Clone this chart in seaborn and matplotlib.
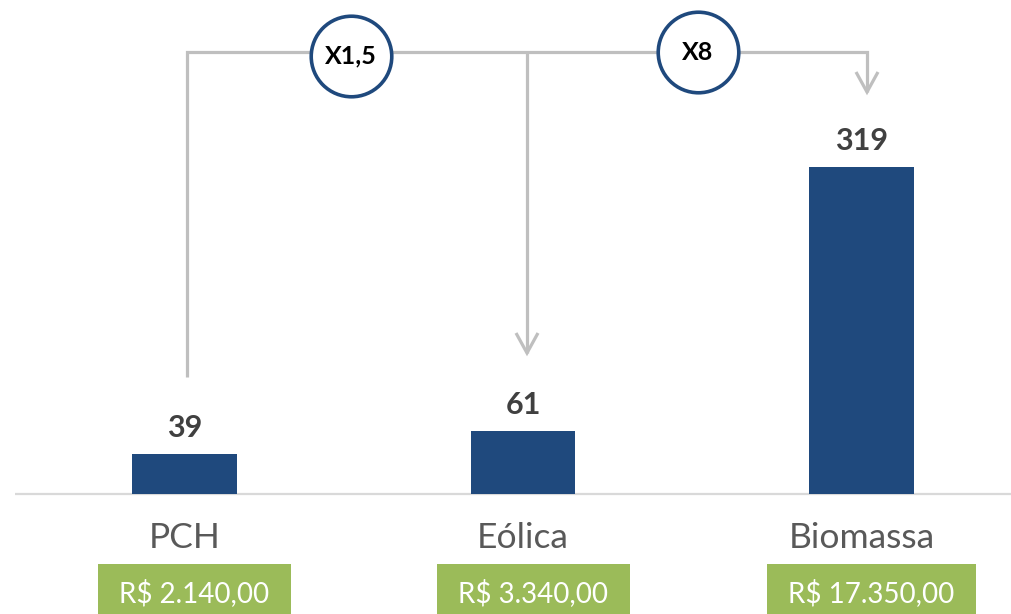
import matplotlib
matplotlib.use("Agg")
import matplotlib.pyplot as plt
import pandas as pd
import seaborn as sns
from matplotlib.patches import Rectangle

# Data
categories = ["PCH", "Eólica", "Biomassa"]
values = [39, 61, 319]
prices = ["R$ 2.140,00", "R$ 3.340,00", "R$ 17.350,00"]
multipliers = ["X1,5", "X8"]

W, H = 1011, 614
BAR_COLOR = "#1F497D"
LINE_GRAY = "#BFBFBF"
GREEN = "#9BBB59"

sns.set_theme(style="white")
plt.rcParams["font.family"] = ["Lato", "DejaVu Sans"]

fig = plt.figure(figsize=(W / 100, H / 100), dpi=100)
ax = fig.add_axes([0, 0, 1, 1])

df = pd.DataFrame({"fonte": categories, "valor": values})
sns.barplot(data=df, x="fonte", y="valor", color=BAR_COLOR, saturation=1,
            width=0.31, edgecolor="none", ax=ax, zorder=2)

# Layout in pixels: first category centre, spacing, baseline, pixels per unit
X0, STEP, BASE, UNIT = 184.5, 338.5, 494.0, 1.025
ax.set_xlim(-X0 / STEP, (W - X0) / STEP)
ax.set_ylim(-(H - BASE) / UNIT, BASE / UNIT)
ax.axis("off")


def to_data(xp, yp):
    return (xp - X0) / STEP, (BASE - yp) / UNIT


dx = lambda p: p / STEP
dy = lambda p: p / UNIT

# Baseline
ax.hlines(0, -0.5, 2.6, color="#D9D9D9", lw=1.6, zorder=1)

# Value labels above the bars
for i, v in enumerate(values):
    ax.annotate(str(v), (i, v), xytext=(0, 12.5), textcoords="offset points",
                ha="center", va="baseline", fontsize=22, fontweight="bold",
                color="#404040", zorder=3)

# Category names
for i, c in enumerate(categories):
    ax.text(i, to_data(0, 548)[1], c, ha="center", va="baseline",
            fontsize=25.5, fontweight="normal", color="#595959")

# Price tags
fig.canvas.draw()
renderer = fig.canvas.get_renderer()
inv = ax.transData.inverted()
for i, p in enumerate(prices):
    t = ax.text(i + dx(10), to_data(0, 602)[1], p, ha="center", va="baseline",
                fontsize=20, color="white", zorder=4)
    bb = t.get_window_extent(renderer)
    wpx = bb.width + 43
    cx = (bb.x0 + bb.x1) / 2
    (x_a, y_a) = inv.transform((cx - wpx / 2, 0))
    (x_b, y_b) = inv.transform((cx + wpx / 2, 50))
    ax.add_patch(Rectangle((x_a, y_a), x_b - x_a, y_b - y_a,
                           facecolor=GREEN, edgecolor="none", zorder=3,
                           clip_on=False))

# Connector lines
yh = to_data(0, 51.5)[1]
xl = to_data(187, 0)[0]
xm = to_data(527, 0)[0]
xr = to_data(867, 0)[0]
y_left_end = to_data(0, 377)[1]
y_mid_tip = to_data(0, 353)[1]
y_right_tip = to_data(0, 92)[1]
lkw = dict(color=LINE_GRAY, lw=2.3, solid_joinstyle="miter",
           solid_capstyle="butt", zorder=1)
ax.plot([xl, xl, xr, xr], [y_left_end, yh, yh, y_right_tip], **lkw)
ax.plot([xm, xm], [yh, y_mid_tip], **lkw)
for x, tip in [(xm, y_mid_tip), (xr, y_right_tip)]:
    ax.plot([x - dx(11), x, x + dx(11)], [tip + dy(20), tip, tip + dy(20)],
            **lkw)

# Multiplier badges
centers = [to_data(351, 56), to_data(698, 52)]
ax.scatter([c[0] for c in centers], [c[1] for c in centers], s=3364,
           facecolor="white", edgecolor=BAR_COLOR, linewidths=2.6, zorder=5)
for (cx, cy), m in zip(centers, multipliers):
    ax.text(cx, cy, m, ha="center", va="center", fontsize=18,
            fontweight="bold", color="black", zorder=6)

fig.savefig("out.png", dpi=100)
